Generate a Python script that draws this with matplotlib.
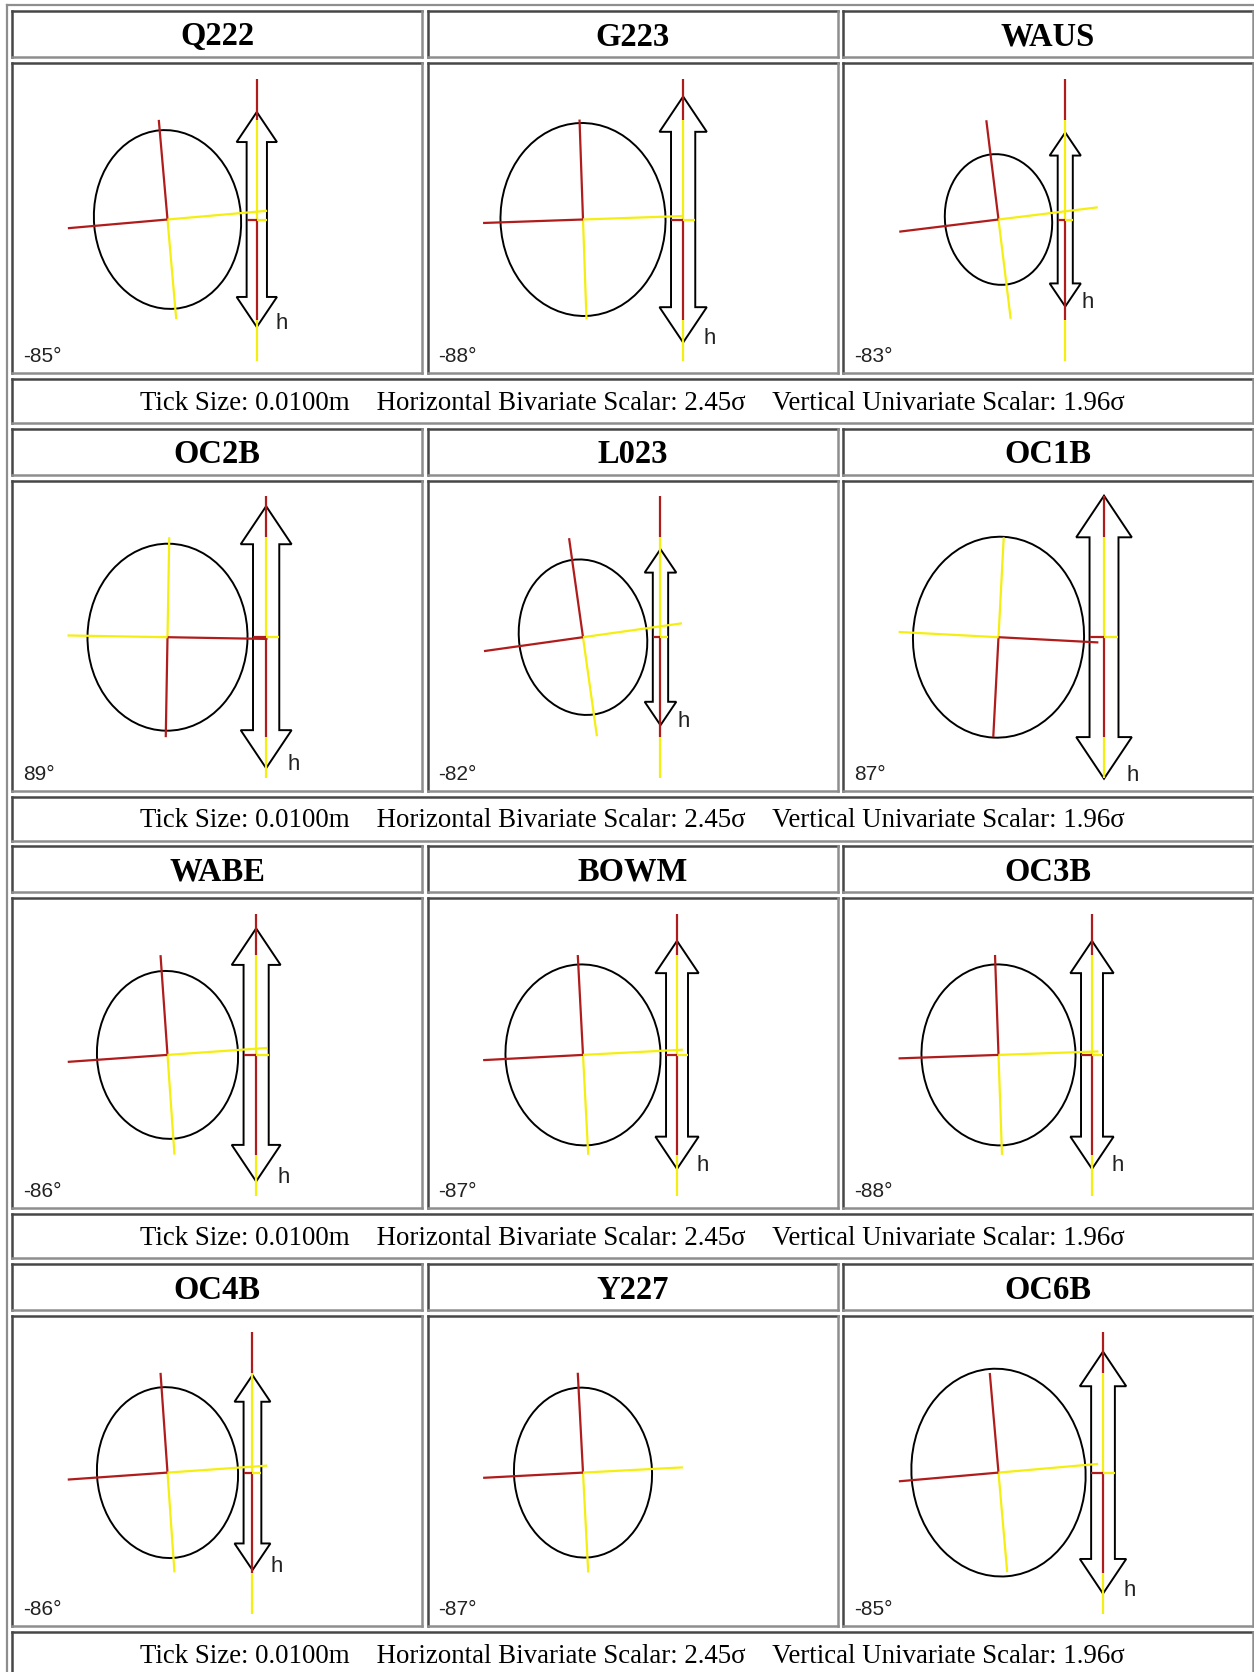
import numpy as np
import matplotlib
matplotlib.use("Agg")
import matplotlib.pyplot as plt
from matplotlib.patches import Ellipse, Polygon

# station error ellipses (drawing units) and vertical error bars
stations = ["Q222", "G223", "WAUS", "OC2B", "L023", "OC1B",
            "WABE", "BOWM", "OC3B", "OC4B", "Y227", "OC6B"]
azimuth_deg = [-85, -88, -83, 89, -82, 87, -86, -87, -88, -86, -87, -85]
semi_major = [89.5, 96.5, 65.5, 93.5, 78.0, 100.5, 84.0, 90.5, 90.5, 85.5, 85.0, 104.0]
semi_minor = [73.5, 82.5, 53.5, 80.0, 64.0, 85.5, 70.5, 77.5, 77.0, 70.5, 69.0, 87.0]
height_half = [107.5, 123.0, 87.0, 131.0, 88.0, 141.5, 126.5, 114.0, 114.0, 97.5, 0.0, 121.0]

tick_size = "0.0100m"
horiz_scalar = "2.45σ"
vert_scalar = "1.96σ"

W, H = 1254, 1672
COL_X = [12, 427.5, 843]
COL_W = 410
PITCH = 417.7
HEAD_Y, HEAD_H = 11, 46
PANEL_Y, PANEL_H = 63, 310
CAP_Y, CAP_H = 379, 44

RED = "#b01c1c"
YELLOW = "#f4ef10"
DARK = "#474747"
LIGHT = "#8e8e8e"

fig = plt.figure(figsize=(W / 100, H / 100), dpi=100)
bg = fig.add_axes([0, 0, 1, 1])
bg.set_xlim(0, W)
bg.set_ylim(H, 0)
bg.axis("off")


def cell(x0, y0, w, h):
    kw = dict(lw=1.8, solid_capstyle="projecting")
    bg.plot([x0, x0 + w], [y0, y0], color=DARK, **kw)
    bg.plot([x0, x0], [y0, y0 + h], color=DARK, **kw)
    bg.plot([x0, x0 + w], [y0 + h, y0 + h], color=LIGHT, **kw)
    bg.plot([x0 + w, x0 + w], [y0, y0 + h], color=LIGHT, **kw)


# outer table edge
bg.plot([7, W], [5, 5], color=LIGHT, lw=1.6)
bg.plot([7, 7], [5, H], color=LIGHT, lw=1.6)

ARM = 100      # crosshair arm length
VLINE = 141    # half length of the vertical reference line
LW = 1.6

for i, name in enumerate(stations):
    r, c = divmod(i, 3)
    x0 = COL_X[c]
    top = r * PITCH
    cell(x0, top + HEAD_Y, COL_W, HEAD_H)
    bg.text(x0 + COL_W / 2, top + HEAD_Y + 34.5, name, ha="center", va="baseline",
            fontsize=23.5, fontweight="bold", family="Liberation Serif")
    cell(x0, top + PANEL_Y, COL_W, PANEL_H)

    ax = fig.add_axes([x0 / W, 1 - (top + PANEL_Y + PANEL_H) / H, COL_W / W, PANEL_H / H])
    ax.set_xlim(0, COL_W)
    ax.set_ylim(0, PANEL_H)
    ax.axis("off")

    cx, cy = 155.5, PANEL_H - 156.5
    th = np.radians(azimuth_deg[i])
    a, b, L = semi_major[i], semi_minor[i], height_half[i]

    if L > 0:
        head_len = 0.34 * L - 6.5
        head_w = 0.224 * L - 3.9
        shaft_w = 0.127 * L - 3.5
        ext_x = np.sqrt((a * np.cos(th)) ** 2 + (b * np.sin(th)) ** 2)
        bx = cx + ext_x + shaft_w + 5.5
        pts = [(bx, cy + L), (bx + head_w, cy + L - head_len), (bx + shaft_w, cy + L - head_len),
               (bx + shaft_w, cy - L + head_len), (bx + head_w, cy - L + head_len), (bx, cy - L),
               (bx - head_w, cy - L + head_len), (bx - shaft_w, cy - L + head_len),
               (bx - shaft_w, cy + L - head_len), (bx - head_w, cy + L - head_len)]
        ax.add_patch(Polygon(pts, closed=True, fill=False, ec="black", lw=1.4))

    ax.add_patch(Ellipse((cx, cy), 2 * a, 2 * b, angle=azimuth_deg[i],
                         fill=False, ec="black", lw=1.4))

    # axes of the ellipse: positive half yellow, negative half red
    for ang in (th, th + np.pi / 2):
        ux, uy = np.cos(ang) * ARM, np.sin(ang) * ARM
        ax.plot([cx, cx - ux], [cy, cy - uy], color=RED, lw=LW, solid_capstyle="butt")
        ax.plot([cx, cx + ux], [cy, cy + uy], color=YELLOW, lw=LW, solid_capstyle="butt")

    if L > 0:
        ax.plot([bx, bx], [cy + VLINE, cy + ARM], color=RED, lw=LW, solid_capstyle="butt")
        ax.plot([bx, bx], [cy + ARM, cy], color=YELLOW, lw=LW, solid_capstyle="butt")
        ax.plot([bx, bx], [cy, cy - ARM], color=RED, lw=LW, solid_capstyle="butt")
        ax.plot([bx, bx], [cy - ARM, cy - VLINE], color=YELLOW, lw=LW, solid_capstyle="butt")
        ax.plot([bx - shaft_w, bx], [cy, cy], color=RED, lw=LW, solid_capstyle="butt")
        ax.plot([bx, bx + shaft_w], [cy, cy], color=YELLOW, lw=LW, solid_capstyle="butt")
        ax.text(bx + 0.12 * L + 6, cy - L - 2, "h", ha="left", va="baseline",
                fontsize=16, color="#222222", family="Liberation Sans")

    ax.text(11, 11, f"{azimuth_deg[i]}°", ha="left", va="baseline",
            fontsize=15, color="#222222", family="Liberation Sans")

caption = (f"Tick Size: {tick_size}    Horizontal Bivariate Scalar: {horiz_scalar}"
           f"    Vertical Univariate Scalar: {vert_scalar}")
for r in range(4):
    top = r * PITCH
    cell(COL_X[0], top + CAP_Y, COL_X[2] + COL_W - COL_X[0], CAP_H)
    bg.text((COL_X[0] + COL_X[2] + COL_W) / 2, top + CAP_Y + 30.5, caption,
            ha="center", va="baseline", fontsize=19.4, family="Liberation Serif")

fig.savefig("out.png", dpi=100, facecolor="white")
